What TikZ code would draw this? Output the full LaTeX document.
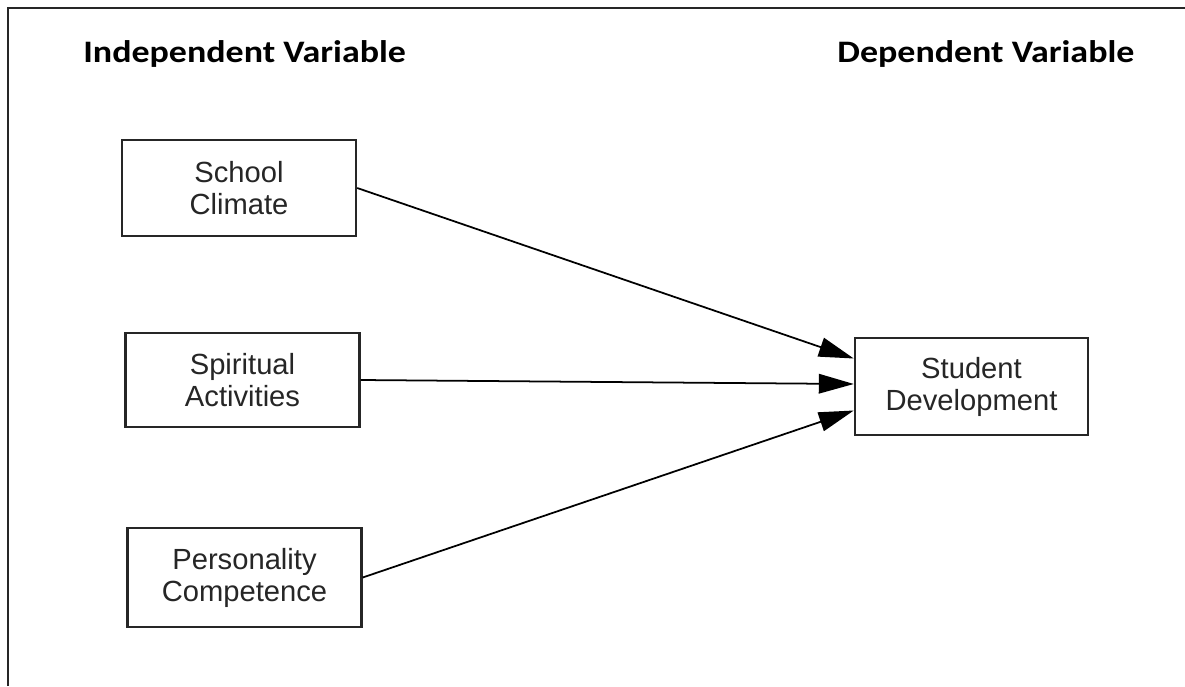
\documentclass[tikz,border=0pt]{standalone}
\usepackage{fontspec}
\setmainfont{Liberation Sans}
\newfontfamily\headfont[FakeStretch=1.15]{Carlito}
\usepackage{tikz}
\usetikzlibrary{arrows.meta}

\tikzset{
  var/.style={draw=black!85, line width=1.4pt, fill=white, align=center,
    text=black!85, font=\fontsize{16.6}{18.2}\selectfont,
    minimum width=4.68cm, minimum height=1.92cm, inner sep=0pt},
  head/.style={font=\headfont\bfseries\fontsize{17.8}{20}\selectfont, inner sep=0pt},
  link/.style={line width=1pt, -{Triangle[length=0.7cm, width=0.39cm]}}
}

\begin{document}
\begin{tikzpicture}[x=0.02cm, y=-0.02cm]% 1 unit = 1 px of the reference
\useasboundingbox (0,0) rectangle (1185,686);
% frame
\draw[line width=1.4pt, black!85] (8,686) -- (8,8) -- (1185,8);
% headings
\node[head, anchor=base west] (iv) at (83,63) {Independent Variable};
\node[head, anchor=base west] (dv) at (837,63) {Dependent Variable};
% variables
\node[var] (sc) at (239,188) {School\\Climate};
\node[var, minimum height=1.88cm] (sa) at (242.5,380) {Spiritual\\Activities};
\node[var, minimum height=1.98cm] (pc) at (244.5,577.5) {Personality\\Competence};
\node[var, minimum width=4.66cm, minimum height=1.94cm] (sd) at (971.5,386.5) {Student\\Development};
% arrow ends
\coordinate (in1) at ([yshift=0.56cm]sd.west);
\coordinate (in2) at ([yshift=0.05cm]sd.west);
\coordinate (in3) at ([yshift=-0.48cm]sd.west);
\draw[link] (sc.east) -- (in1);
\draw[link] (sa.east) -- (in2);
\draw[link] (pc.east) -- (in3);
\end{tikzpicture}
\end{document}
